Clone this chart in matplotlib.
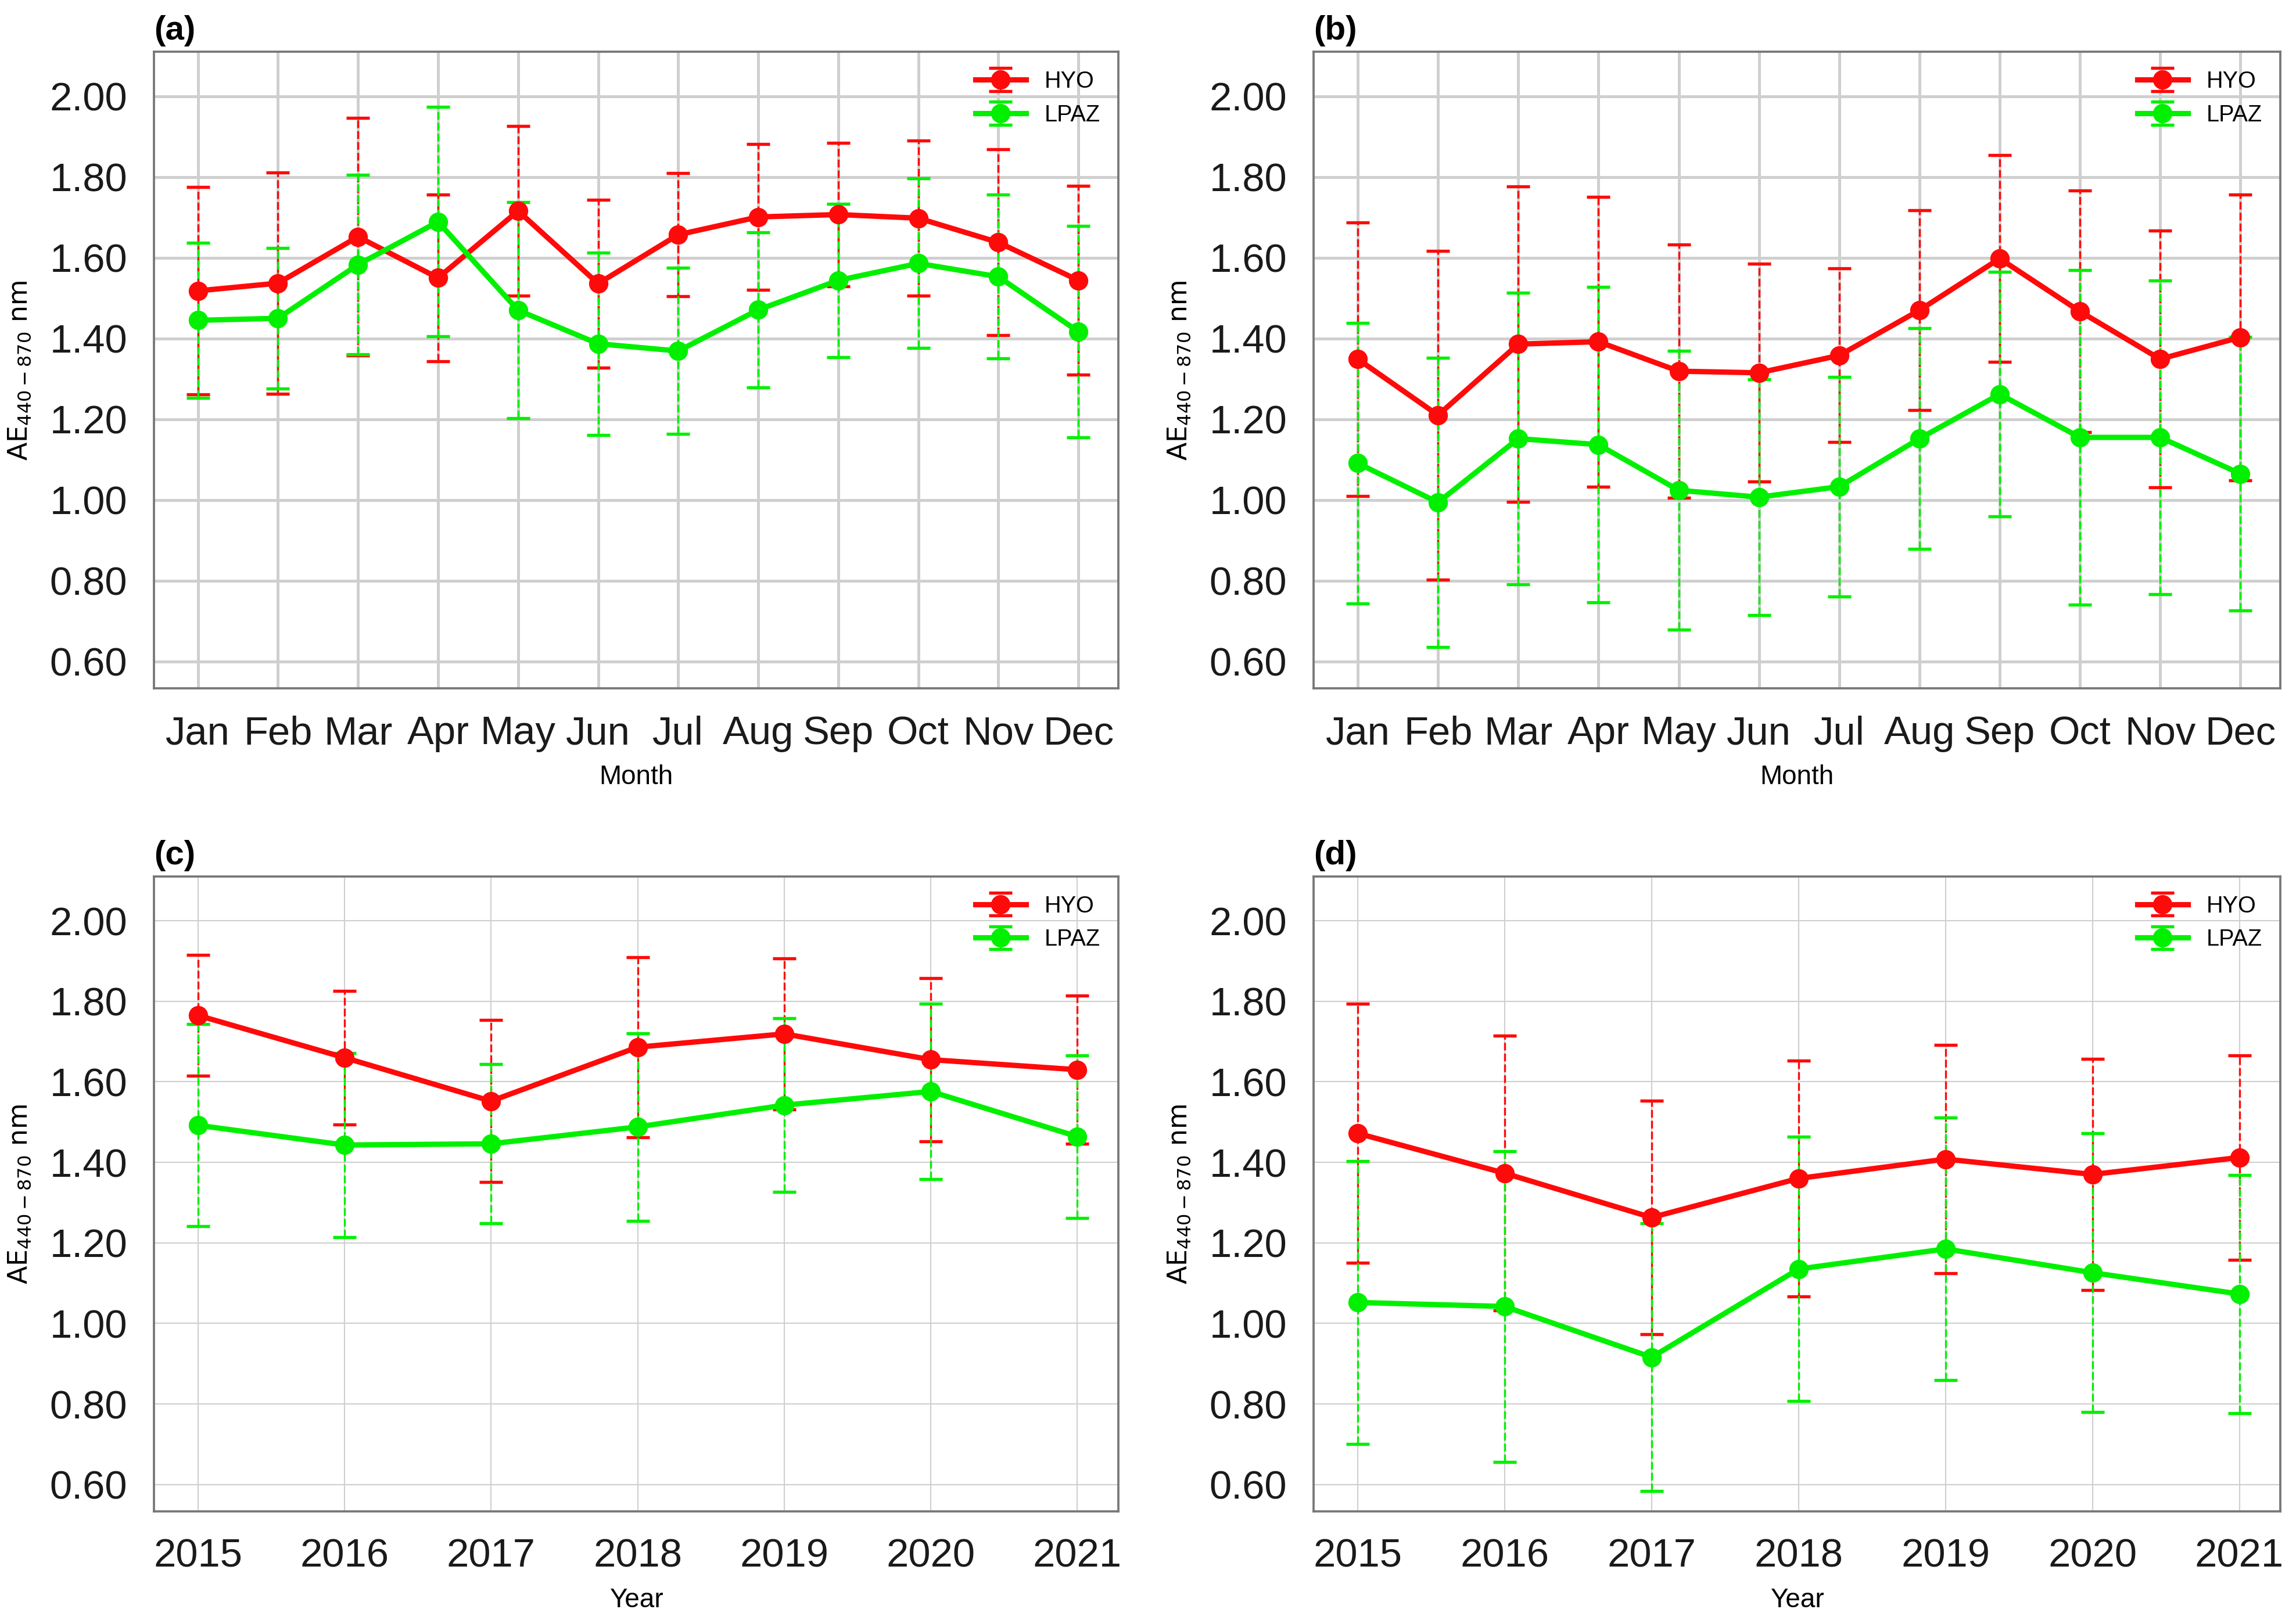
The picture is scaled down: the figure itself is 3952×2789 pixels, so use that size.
import matplotlib
matplotlib.use('Agg')
import matplotlib.pyplot as plt

months = ['Jan', 'Feb', 'Mar', 'Apr', 'May', 'Jun', 'Jul', 'Aug', 'Sep', 'Oct', 'Nov', 'Dec']
years = [2015, 2016, 2017, 2018, 2019, 2020, 2021]

# (a) monthly, mean and std
a_hyo = [1.518, 1.537, 1.652, 1.550, 1.716, 1.536, 1.657, 1.701, 1.707, 1.698, 1.638, 1.544]
a_hyo_sd = [0.257, 0.274, 0.294, 0.206, 0.210, 0.208, 0.152, 0.180, 0.178, 0.192, 0.230, 0.234]
a_lpaz = [1.445, 1.450, 1.583, 1.689, 1.470, 1.387, 1.369, 1.471, 1.544, 1.586, 1.553, 1.417]
a_lpaz_sd = [0.192, 0.174, 0.222, 0.284, 0.268, 0.226, 0.206, 0.192, 0.190, 0.210, 0.203, 0.262]

# (b) monthly
b_hyo = [1.349, 1.210, 1.386, 1.392, 1.319, 1.315, 1.358, 1.470, 1.598, 1.467, 1.349, 1.403]
b_hyo_sd = [0.339, 0.407, 0.390, 0.359, 0.314, 0.270, 0.215, 0.248, 0.256, 0.299, 0.318, 0.354]
b_lpaz = [1.091, 0.994, 1.152, 1.137, 1.024, 1.007, 1.033, 1.152, 1.262, 1.155, 1.155, 1.065]
b_lpaz_sd = [0.347, 0.358, 0.361, 0.391, 0.345, 0.292, 0.272, 0.273, 0.303, 0.414, 0.388, 0.339]

# (c) yearly
c_hyo = [1.765, 1.660, 1.552, 1.686, 1.719, 1.655, 1.630]
c_hyo_sd = [0.150, 0.166, 0.201, 0.224, 0.187, 0.203, 0.184]
c_lpaz = [1.492, 1.443, 1.446, 1.488, 1.542, 1.576, 1.464]
c_lpaz_sd = [0.251, 0.229, 0.198, 0.233, 0.216, 0.218, 0.202]

# (d) yearly
d_hyo = [1.472, 1.373, 1.263, 1.360, 1.408, 1.370, 1.412]
d_hyo_sd = [0.322, 0.341, 0.290, 0.293, 0.283, 0.287, 0.254]
d_lpaz = [1.052, 1.042, 0.916, 1.135, 1.185, 1.126, 1.073]
d_lpaz_sd = [0.351, 0.386, 0.332, 0.328, 0.326, 0.346, 0.296]

RED = '#ff0a0a'
GREEN = '#00f000'
REG = ['Liberation Sans', 'DejaVu Sans']


def panel(ax, x, labels, hyo, hyo_sd, lpaz, lpaz_sd, xlabel, tag, thick):
    for m, s, c, name in [(hyo, hyo_sd, RED, 'HYO'), (lpaz, lpaz_sd, GREEN, 'LPAZ')]:
        eb = ax.errorbar(x, m, yerr=s, color=c, marker='o', ms=7, lw=2.2,
                         capsize=4.8, capthick=1.3, elinewidth=0.8, label=name, zorder=3)
        eb[2][0].set_linestyle((0, (4, 1.6)))
    ax.set_ylim(0.533, 2.11)
    ax.set_yticks([0.6, 0.8, 1.0, 1.2, 1.4, 1.6, 1.8, 2.0])
    ax.set_yticklabels(['%.2f' % v for v in ax.get_yticks()])
    ax.set_xticks(x)
    ax.set_xticklabels(labels)
    if x[0] > 100:
        ax.set_xlim(x[0] - 0.3, x[-1] + 0.28)
    else:
        ax.set_xlim(-0.55, 11.5)
    ax.grid(True, color='#cfcfcf', lw=1.2 if thick else 0.5, zorder=0)
    ax.set_axisbelow(True)
    ax.tick_params(length=0, pad=11, labelsize=16.5, labelcolor='#1a1a1a')
    for t in ax.get_xticklabels() + ax.get_yticklabels():
        t.set_family(REG)
    for sp in ax.spines.values():
        sp.set_color('#777777')
        sp.set_linewidth(0.9)
    ax.set_xlabel(xlabel, fontsize=11, family=REG, labelpad=5)
    ax.set_ylabel(r'AE$_{440-870}$ nm', fontsize=11, labelpad=7)
    ax.text(0.0, 1.008, tag, transform=ax.transAxes, ha='left', va='bottom',
            fontsize=14, fontweight='bold', family=REG)
    ax.legend(loc='upper right', frameon=False, prop={'family': REG, 'size': 9.5},
              handlelength=2.2, borderaxespad=0.4)


fig = plt.figure(figsize=(3953 / 300, 2789 / 300), dpi=300)
fig.patch.set_facecolor('white')
mi = list(range(12))
ax1 = fig.add_axes([0.067, 0.575, 0.420, 0.393])
ax2 = fig.add_axes([0.572, 0.575, 0.421, 0.393])
ax3 = fig.add_axes([0.067, 0.067, 0.420, 0.392])
ax4 = fig.add_axes([0.572, 0.067, 0.421, 0.392])

panel(ax1, mi, months, a_hyo, a_hyo_sd, a_lpaz, a_lpaz_sd, 'Month', '(a)', True)
panel(ax2, mi, months, b_hyo, b_hyo_sd, b_lpaz, b_lpaz_sd, 'Month', '(b)', True)
panel(ax3, years, [str(y) for y in years], c_hyo, c_hyo_sd, c_lpaz, c_lpaz_sd, 'Year', '(c)', False)
panel(ax4, years, [str(y) for y in years], d_hyo, d_hyo_sd, d_lpaz, d_lpaz_sd, 'Year', '(d)', False)

fig.savefig('out.png', dpi=300, facecolor='white')
